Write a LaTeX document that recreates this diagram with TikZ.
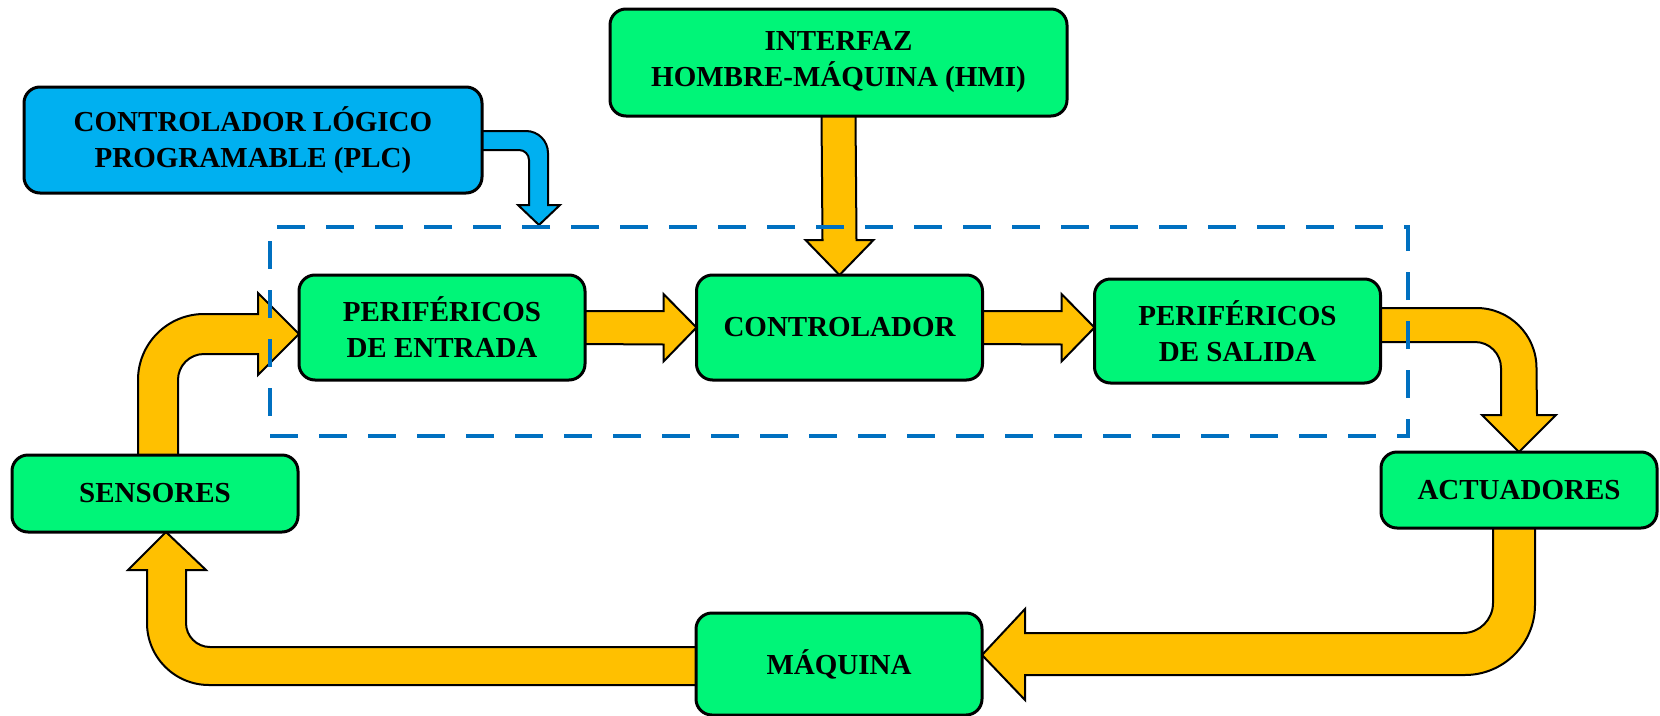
\documentclass[tikz,border=0pt]{standalone}
\usepackage{fontspec}
\setmainfont{Liberation Serif}
\usetikzlibrary{positioning, calc, backgrounds}
\definecolor{verde}{RGB}{0,245,120}
\definecolor{naranja}{RGB}{255,192,0}
\definecolor{celeste}{RGB}{0,176,240}
\definecolor{azul}{RGB}{0,112,192}

\begin{document}
\begin{tikzpicture}[x=1pt, y=-1pt, caja/.style={draw=black, line width=3pt, fill=verde, rounded corners=16pt, inner sep=0, outer sep=0, minimum width=286pt, align=center, font=\fontsize{29}{36}\selectfont\bfseries}, flecha/.style={draw=black, line width=2pt, fill=naranja}, zona/.style={draw=azul, line width=4.5pt, dash pattern=on 28pt off 21pt, inner sep=0, outer sep=0}]

          \useasboundingbox (0,0) rectangle (1660,715);

          \node[caja, fill=celeste, minimum width=458pt, minimum height=106pt] at (253,140) (plc) {CONTROLADOR LÓGICO\\PROGRAMABLE (PLC)};
          \node[caja, minimum width=457pt, minimum height=107pt] at (838.5,62.5) (hmi) {INTERFAZ\\HOMBRE-MÁQUINA (HMI)};
          \node[caja, minimum height=105pt] at (442,327.5) (entrada) {PERIFÉRICOS\\DE ENTRADA};
          \node[caja, minimum height=105pt, right of = entrada, node distance=397.5pt] (control) {CONTROLADOR};
          \node[caja, minimum height=104pt] at (1237.5,331) (salida) {PERIFÉRICOS\\DE SALIDA};
          \node[caja, minimum height=77pt] at (155,493.5) (sensores) {SENSORES};
          \node[caja, minimum width=276pt, minimum height=76pt] at (1519,490) (actuadores) {ACTUADORES};
          \node[caja, minimum height=102pt] at (839,664) (maquina) {MÁQUINA};

          \node[zona, minimum width=1138pt, minimum height=209pt] at (839,331.5) (lazo) {};
          \coordinate (plcin) at ($(lazo.north west)+(269,-2)$);
          \coordinate (salin) at (salida.west |- control.east);

          \begin{scope}[on background layer]
          \filldraw[flecha, fill=celeste] ($(plc.east)+(0,-9)$) -- ++(44,0) arc[start angle=270, end angle=360, radius=22] -- ($(plcin)+(9,-20)$) -- ++(12,0) -- (plcin) -- ($(plcin)+(-21,-20)$) -- ++(11,0) -- ++(0,-45) arc[start angle=0, end angle=-90, radius=10] -- ($(plc.east)+(0,10)$);
          \filldraw[flecha] ($(hmi.south)+(-17,0)$) -- ($(control.north)+(-17,-35)$) -- ++(-17,0) -- (control.north) -- ($(control.north)+(34,-35)$) -- ++(-17,0) -- ($(hmi.south)+(17,0)$);
          \filldraw[flecha] ($(entrada.east)+(0,-16.5)$) -- ($(control.west)+(-33,-16.5)$) -- ++(0,-17) -- (control.west) -- ($(control.west)+(-33,34)$) -- ++(0,-17) -- ($(entrada.east)+(0,16.5)$);
          \filldraw[flecha] ($(control.east)+(0,-16.5)$) -- ($(salin)+(-33,-16.5)$) -- ++(0,-17) -- (salin) -- ($(salin)+(-33,34)$) -- ++(0,-17) -- ($(control.east)+(0,16.5)$);
          \filldraw[flecha] ($(salida.east)+(0,-23)$) -- ++(96,0) arc[start angle=270, end angle=360, radius=60] -- ($(actuadores.north)+(18,-37)$) -- ++(19,0) -- (actuadores.north) -- ($(actuadores.north)+(-37,-37)$) -- ++(19,0) -- ++(0,-47) arc[start angle=0, end angle=-90, radius=26] -- ($(salida.east)+(0,11)$);
          \filldraw[flecha] ($(actuadores.south)+(16,0)$) -- ++(0,77) arc[start angle=0, end angle=90, radius=70] -- ($(maquina.east)+(43,11)$) -- ++(0,25) -- ($(maquina.east)+(0,-9)$) -- ($(maquina.east)+(43,-55)$) -- ++(0,24) -- ($(maquina.east)+(481,-31)$) arc[start angle=90, end angle=0, radius=30] -- ($(actuadores.south)+(-26,0)$);
          \filldraw[flecha] ($(maquina.west)+(0,21)$) -- ++(-487,0) arc[start angle=90, end angle=180, radius=62] -- ($(sensores.south)+(-8,38)$) -- ++(-19,0) -- ($(sensores.south)+(11,0)$) -- ($(sensores.south)+(51,38)$) -- ++(-20,0) -- ++(0,53) arc[start angle=180, end angle=90, radius=24] -- ($(maquina.west)+(0,-17)$);
          \filldraw[flecha] ($(sensores.north)+(-17,0)$) -- ++(0,-75) arc[start angle=180, end angle=270, radius=66] -- ($(entrada.west)+(-41,-13.5)$) -- ++(0,-21) -- ($(entrada.west)+(0,6.5)$) -- ($(entrada.west)+(-41,47.5)$) -- ++(0,-21) -- ($(entrada.west)+(-95,26.5)$) arc[start angle=270, end angle=180, radius=26] -- ($(sensores.north)+(23,0)$);
          \end{scope}

      \end{tikzpicture}
\end{document}
